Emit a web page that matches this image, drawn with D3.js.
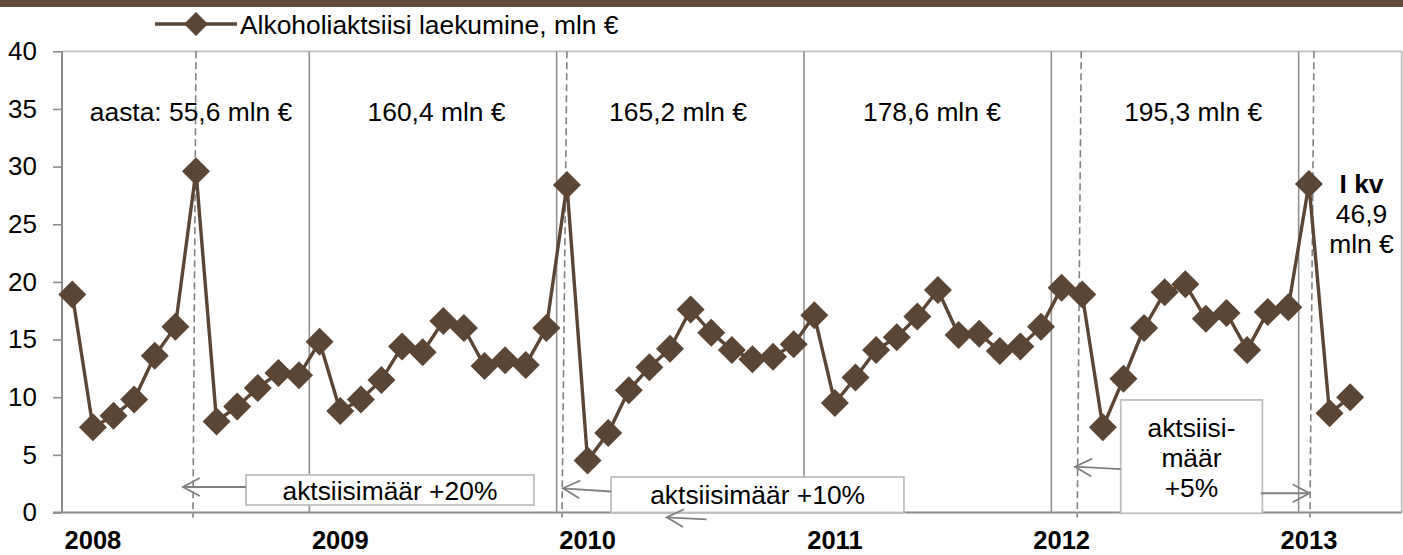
<!DOCTYPE html>
<html><head><meta charset="utf-8">
<script src="https://cdn.jsdelivr.net/npm/d3@7"></script>
<style>
body{margin:0;background:#fff}
svg{display:block}
text{font-family:"Liberation Sans",Arial,Helvetica,sans-serif;fill:#000}
</style>
</head><body>
<svg id="c" width="1403" height="555"></svg>
<script>
// ---------- data ----------
const seriesName = "Alkoholiaktsiisi laekumine, mln €";
const years = ["2008","2009","2010","2011","2012","2013"];
const monthNums = ["01","02","03","04","05","06","07","08","09","10","11","12"];
// category axis: Jan 2008 .. May 2013 (last two empty)
const months = [];
years.forEach(yr => monthNums.forEach(m => months.push(yr + "-" + m)));
months.splice(65);
const values = [
  18.9, 7.4, 8.4, 9.8, 13.6, 16.1, 29.6, 7.9, 9.2, 10.8, 12.1, 11.9,
  14.8, 8.8, 9.8, 11.5, 14.4, 13.9, 16.6, 16.0, 12.7, 13.2, 12.8, 16.0,
  28.4, 4.5, 6.9, 10.6, 12.6, 14.2, 17.6, 15.6, 14.1, 13.3, 13.5, 14.6,
  17.1, 9.5, 11.7, 14.1, 15.2, 17.0, 19.3, 15.4, 15.5, 14.0, 14.4, 16.1,
  19.5, 18.9, 7.4, 11.6, 16.0, 19.1, 19.8, 16.8, 17.3, 14.1, 17.4, 17.8,
  28.5, 8.6, 10.0
];
const yTicks = [0, 5, 10, 15, 20, 25, 30, 35, 40];
const yearLabelMonths = ["2008-02","2009-02","2010-02","2011-02","2012-01","2013-01"];
const yearStartMonths = ["2009-01","2010-01","2011-01","2012-01","2013-01"];
const yearTotals = ["aasta: 55,6 mln €", "160,4 mln €", "165,2 mln €", "178,6 mln €", "195,3 mln €"];
const yearTotalPos = [6.26, 18.17, 29.89, 42.21, 54.88];
const exciseMonths = ["2008-07","2010-01","2012-02","2013-01"];
const q1Lines = ["I kv", "46,9", "mln €"];

// ---------- layout ----------
const svg = d3.select("#c");
const W = 1403, H = 555;
const L = 62, R = 1401.7, T = 51.3, B = 512.5;
const brown = "#5b4534";
const axisGray = "#8c8c8c";
const FS = 26.4;

const x = d3.scaleBand().domain(months).range([L, R]).paddingInner(0).paddingOuter(0);
const bw = x.bandwidth();
const xc = m => x(m) + bw / 2;
const xf = f => L + f * bw;          // fractional month position
const y = d3.scaleLinear().domain([0, 40]).range([B, T]);

// top brown bar
svg.append("rect").attr("x", 0).attr("y", 0).attr("width", W).attr("height", 7).attr("fill", "#634c38");

// plot frame (top + right)
svg.append("line").attr("x1", L).attr("x2", R).attr("y1", T).attr("y2", T)
  .attr("stroke", "#c0c0c0").attr("stroke-width", 1.8);
svg.append("line").attr("x1", R).attr("x2", R).attr("y1", T).attr("y2", B)
  .attr("stroke", "#c0c0c0").attr("stroke-width", 1.8);

// year separators
svg.append("g").selectAll("line").data(yearStartMonths).join("line")
  .attr("x1", d => x(d)).attr("x2", d => x(d)).attr("y1", T).attr("y2", B)
  .attr("stroke", "#909090").attr("stroke-width", 1.6);

// excise change dashed lines (slight hand-drawn tilt)
const dashTilt = [[0, -3], [0, -5], [-1, -5], [5, 1]];
svg.append("g").selectAll("line").data(exciseMonths).join("line")
  .attr("x1", (d, i) => xc(d) + dashTilt[i][0]).attr("x2", (d, i) => xc(d) + dashTilt[i][1])
  .attr("y1", T).attr("y2", B + 5)
  .attr("stroke", "#808080").attr("stroke-width", 1.6).attr("stroke-dasharray", "7,4");

// y axis
const yAxis = d3.axisLeft(y).tickValues(yTicks).tickSize(9).tickPadding(16).tickFormat(d3.format("d"));
const gy = svg.append("g").attr("transform", `translate(${L},0)`).call(yAxis);
gy.select(".domain").attr("stroke", axisGray).attr("stroke-width", 2).attr("d", `M0,${T}V${B}`);
gy.selectAll(".tick line").attr("stroke", axisGray).attr("stroke-width", 1.6);
gy.selectAll(".tick text").attr("font-size", 26).attr("font-family", '"Liberation Sans",Arial,sans-serif').attr("fill", "#000");

// x axis
const xAxis = d3.axisBottom(x).tickValues(yearLabelMonths).tickSize(0).tickPadding(0)
  .tickFormat(d => d.slice(0, 4));
const gx = svg.append("g").attr("transform", `translate(0,${B})`).call(xAxis);
gx.select(".domain").remove();
gx.selectAll(".tick text").attr("dy", null).attr("y", 36).attr("font-size", 25.5).attr("font-weight", "bold")
  .attr("font-family", '"Liberation Sans",Arial,sans-serif').attr("fill", "#000");
svg.append("line").attr("x1", L - 9).attr("x2", R).attr("y1", B).attr("y2", B)
  .attr("stroke", axisGray).attr("stroke-width", 2);

// year totals
svg.append("g").selectAll("text").data(yearTotals).join("text")
  .attr("x", (d, i) => xf(yearTotalPos[i])).attr("y", y(33.98))
  .attr("text-anchor", "middle").attr("font-size", FS).text(d => d);

// Q1 2013 label
svg.append("g").selectAll("text").data(q1Lines).join("text")
  .attr("x", xf(63.05)).attr("y", (d, i) => y([27.71, 25.08, 22.48][i]))
  .attr("text-anchor", "middle").attr("font-size", FS)
  .attr("font-weight", (d, i) => i === 0 ? "bold" : "normal").text(d => d);

// series
const pts = values.map((v, i) => ({m: months[i], v}));
svg.append("path").datum(pts)
  .attr("d", d3.line().x(d => xc(d.m)).y(d => y(d.v)))
  .attr("fill", "none").attr("stroke", brown).attr("stroke-width", 3.4).attr("stroke-linejoin", "round");
const diamond = "M0,-14L14,0L0,14L-14,0Z";
svg.append("g").selectAll("path").data(pts).join("path")
  .attr("transform", d => `translate(${xc(d.m)},${y(d.v)})`).attr("d", diamond).attr("fill", brown);

// annotation boxes and arrows
function arrow(f1, v1, f2, v2) {
  const x1 = xf(f1), y1 = y(v1), x2 = xf(f2), y2 = y(v2);
  const g = svg.append("g").attr("stroke", "#808080").attr("stroke-width", 1.8).attr("fill", "none");
  g.append("line").attr("x1", x1).attr("y1", y1).attr("x2", x2).attr("y2", y2);
  const a = Math.atan2(y1 - y2, x1 - x2), len = 19, sp = 0.49;
  g.append("path").attr("d",
    `M${x2 + len * Math.cos(a + sp)},${y2 + len * Math.sin(a + sp)}L${x2},${y2}L${x2 + len * Math.cos(a - sp)},${y2 + len * Math.sin(a - sp)}`);
}
function box(f1, f2, v1, v2) {
  svg.append("rect").attr("x", xf(f1)).attr("y", y(v1)).attr("width", xf(f2) - xf(f1)).attr("height", y(v2) - y(v1))
    .attr("fill", "#fff").attr("stroke", "#bfbfbf").attr("stroke-width", 1.8);
}
// +20%
box(8.93, 22.9, 3.25, 0.65);
svg.append("text").attr("x", xf(15.91)).attr("y", y(1.95)).attr("dy", "0.36em").attr("text-anchor", "middle")
  .attr("font-size", FS).text("aktsiisimäär +20%");
arrow(8.93, 2.21, 5.87, 2.21);
// +10%
box(26.64, 40.85, 3.08, 0.0);
svg.append("text").attr("x", xf(33.75)).attr("y", y(1.56)).attr("dy", "0.36em").attr("text-anchor", "middle")
  .attr("font-size", FS).text("aktsiisimäär +10%");
arrow(26.64, 1.82, 24.31, 2.10);
arrow(31.27, -0.59, 29.34, -0.42);
// +5%
box(51.37, 58.24, 9.76, -0.07);
svg.append("g").selectAll("text").data(["aktsiisi-", "määr", "+5%"]).join("text")
  .attr("x", xf(54.8)).attr("y", (d, i) => y([6.57, 3.97, 1.32][i]))
  .attr("text-anchor", "middle").attr("font-size", FS).text(d => d);
arrow(51.37, 3.77, 49.15, 3.97);
arrow(58.16, 1.67, 60.52, 1.67);

// legend
const lg = svg.append("g").attr("transform", "translate(0,24)");
lg.append("line").attr("x1", 155).attr("x2", 237).attr("y1", 0).attr("y2", 0).attr("stroke", brown).attr("stroke-width", 3.4);
lg.append("path").attr("transform", "translate(196,0)").attr("d", "M0,-12L12,0L0,12L-12,0Z").attr("fill", brown);
lg.append("text").attr("x", 240).attr("y", 0).attr("dy", "0.36em").attr("font-size", FS).text(seriesName);
</script>
</body></html>
